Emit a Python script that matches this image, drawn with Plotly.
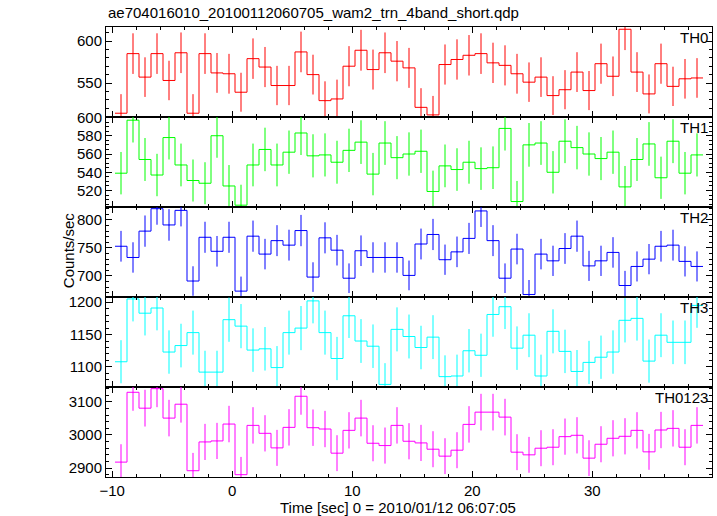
import numpy as np
import plotly.graph_objects as go
from plotly.subplots import make_subplots

# ---- data (rates in counts/sec, 1-s bins) ----
t_first = -9.27
bin_width = 1.0

th0 = [514, 585, 557, 585, 553, 586, 514, 585, 562, 561, 539, 579, 569, 547, 547, 587, 560, 529, 531, 570,
       589, 566, 586, 576, 568, 521, 512, 572, 578, 583, 585, 574, 571, 561, 551, 557, 535, 542, 563, 541,
       573, 558, 614, 563, 537, 573, 546, 555, 556]
th0_err = [22.7, 24.2, 23.6, 24.2, 23.5, 24.2, 22.7, 24.2, 23.7, 23.7, 23.2, 24.1, 23.9, 23.4, 23.4, 24.2, 23.7,
           23.0, 23.0, 23.9, 24.3, 23.8, 24.2, 24.0, 23.8, 22.8, 22.6, 23.9, 24.0, 24.1, 24.2, 24.0, 23.9, 23.7,
           23.5, 23.6, 23.1, 23.3, 23.7, 23.3, 23.9, 23.6, 24.8, 23.7, 23.2, 23.9, 23.4, 23.6, 23.6]

th1 = [539, 597, 554, 537, 578, 548, 531, 528, 580, 525, 504, 548, 565, 548, 562, 583, 558, 559, 551, 564,
       573, 538, 572, 556, 560, 563, 519, 547, 543, 551, 544, 545, 588, 508, 570, 572, 540, 574, 567, 560,
       555, 562, 524, 554, 571, 534, 574, 539, 559]
th1_err = [23.2, 24.4, 23.5, 23.2, 24.0, 23.4, 23.0, 23.0, 24.1, 22.9, 22.4, 23.4, 23.8, 23.4, 23.7, 24.1, 23.6,
           23.6, 23.5, 23.7, 23.9, 23.2, 23.9, 23.6, 23.7, 23.7, 22.8, 23.4, 23.3, 23.5, 23.3, 23.3, 24.2, 22.5,
           23.9, 23.9, 23.2, 24.0, 23.8, 23.7, 23.6, 23.7, 22.9, 23.5, 23.9, 23.1, 24.0, 23.2, 23.6]

th2 = [753, 733, 780, 820, 791, 817, 691, 769, 744, 769, 673, 771, 739, 763, 755, 781, 698, 768, 746, 696,
       745, 733, 733, 733, 701, 757, 774, 729, 743, 767, 816, 763, 696, 748, 667, 739, 727, 749, 771, 718,
       727, 742, 683, 717, 730, 753, 755, 726, 717]
th2_err = [27.4, 27.1, 27.9, 28.6, 28.1, 28.6, 26.3, 27.7, 27.3, 27.7, 25.9, 27.8, 27.2, 27.6, 27.5, 27.9, 26.4,
           27.7, 27.3, 26.4, 27.3, 27.1, 27.1, 27.1, 26.5, 27.5, 27.8, 27.0, 27.3, 27.7, 28.6, 27.6, 26.4, 27.3,
           25.8, 27.2, 27.0, 27.4, 27.8, 26.8, 27.0, 27.2, 26.1, 26.8, 27.0, 27.4, 27.5, 26.9, 26.8]

th3 = [1108, 1205, 1183, 1191, 1123, 1133, 1153, 1092, 1092, 1173, 1163, 1126, 1128, 1099, 1153, 1160, 1202,
       1153, 1113, 1179, 1140, 1132, 1073, 1158, 1147, 1130, 1146, 1085, 1086, 1125, 1118, 1181, 1193, 1129,
       1149, 1086, 1155, 1124, 1093, 1107, 1115, 1123, 1172, 1175, 1109, 1149, 1138, 1138, 1195]
th3_err = [33.3, 34.7, 34.4, 34.5, 33.5, 33.7, 34.0, 33.0, 33.0, 34.2, 34.1, 33.6, 33.6, 33.2, 34.0, 34.1, 34.7,
           34.0, 33.4, 34.3, 33.8, 33.6, 32.8, 34.0, 33.9, 33.6, 33.9, 32.9, 33.0, 33.5, 33.4, 34.4, 34.5, 33.6,
           33.9, 33.0, 34.0, 33.5, 33.1, 33.3, 33.4, 33.5, 34.2, 34.3, 33.3, 33.9, 33.7, 33.7, 34.6]

th0123 = [2918, 3129, 3081, 3140, 3051, 3093, 2892, 2979, 2982, 3033, 2880, 3029, 3005, 2961, 3023, 3117, 3022,
          3018, 2945, 3014, 3051, 2975, 2968, 3029, 2981, 2976, 2957, 2936, 2954, 3032, 3069, 3069, 3054, 2948,
          2940, 2960, 2963, 2995, 2999, 2930, 2972, 2990, 2996, 3014, 2949, 3015, 3020, 2963, 3029]
th0123_err = [54.0, 55.9, 55.5, 56.0, 55.2, 55.6, 53.8, 54.6, 54.6, 55.1, 53.7, 55.0, 54.8, 54.4, 55.0, 55.8,
              55.0, 54.9, 54.3, 54.9, 55.2, 54.5, 54.5, 55.0, 54.6, 54.6, 54.4, 54.2, 54.4, 55.1, 55.4, 55.4,
              55.3, 54.3, 54.2, 54.4, 54.4, 54.7, 54.8, 54.1, 54.5, 54.7, 54.7, 54.9, 54.3, 54.9, 55.0, 54.4, 55.0]

band_names = ["TH0", "TH1", "TH2", "TH3", "TH0123"]
band_values = [th0, th1, th2, th3, th0123]
band_errors = [th0_err, th1_err, th2_err, th3_err, th0123_err]
band_colors = ["rgb(255,0,0)", "rgb(0,255,0)", "rgb(0,0,255)", "rgb(0,255,255)", "rgb(255,0,255)"]
y_ranges = [[509.5, 616.7], [502, 600.5], [662.5, 823], [1069, 1208], [2873, 3145]]
y_dticks = [50, 20, 50, 50, 100]
y_minor = [10, 5, 10, 10, 20]

title_text = "ae704016010_20100112060705_wam2_trn_4band_short.qdp"
x_title = "Time [sec] 0 = 2010/01/12 06:07:05"
y_title = "Counts/sec"

FONT = "Liberation Sans, Arial, Helvetica, sans-serif"
FS = 15

fig = make_subplots(rows=5, cols=1, shared_xaxes=True, vertical_spacing=0)

for i, (name, vals, errs, col) in enumerate(zip(band_names, band_values, band_errors, band_colors)):
    vals = np.asarray(vals, float)
    n = len(vals)
    t = t_first + bin_width * np.arange(n)
    edges = np.append(t - 0.5 * bin_width, t[-1] + 0.5 * bin_width)
    ystep = np.append(vals, vals[-1])
    fig.add_trace(go.Scatter(x=edges, y=ystep, mode="lines", line=dict(color=col, width=1, shape="hv"),
                             showlegend=False, hoverinfo="skip"), row=i + 1, col=1)
    fig.add_trace(go.Scatter(x=t, y=vals, mode="markers", marker=dict(size=1, color=col),
                             error_y=dict(type="data", array=errs, visible=True, color=col, thickness=1, width=0),
                             showlegend=False), row=i + 1, col=1)
    fig.update_yaxes(range=y_ranges[i], dtick=y_dticks[i], tick0=0, row=i + 1, col=1,
                     minor=dict(dtick=y_minor[i], ticks="inside", ticklen=3, tickcolor="black"))
    fig.add_annotation(text=name, xref=f"x{i + 1 if i else ''} domain", yref=f"y{i + 1 if i else ''} domain",
                       x=0.997, y=0.88, xanchor="right", yanchor="middle", showarrow=False,
                       font=dict(size=FS, color="black", family=FONT))

fig.update_xaxes(range=[-10.52, 39.98], dtick=10, tick0=0, ticks="inside", ticklen=6, tickcolor="black",
                 showline=True, linecolor="black", linewidth=1, mirror="allticks", showgrid=False, zeroline=False,
                 minor=dict(dtick=2, ticks="inside", ticklen=3, tickcolor="black"),
                 tickfont=dict(size=FS, family=FONT, color="black"))
fig.update_yaxes(ticks="inside", ticklen=6, tickcolor="black", showline=True, linecolor="black", linewidth=1,
                 mirror="allticks", showgrid=False, zeroline=False,
                 tickfont=dict(size=FS, family=FONT, color="black"))

fig.add_annotation(text=title_text, xref="paper", yref="paper", x=0.0, y=1.033, xanchor="left", yanchor="middle",
                   showarrow=False, font=dict(size=FS, family=FONT, color="black"))
fig.add_annotation(text=x_title, xref="paper", yref="paper", x=0.482, y=-0.067, xanchor="center", yanchor="middle",
                   showarrow=False, font=dict(size=FS, family=FONT, color="black"))
fig.add_annotation(text=y_title, xref="paper", yref="paper", x=-0.0627, y=0.504, xanchor="center", yanchor="middle",
                   textangle=-90, showarrow=False, font=dict(size=FS, family=FONT, color="black"))

fig.update_layout(width=717, height=516, margin=dict(l=106, r=5, t=27, b=39),
                  paper_bgcolor="white", plot_bgcolor="white", showlegend=False,
                  font=dict(family=FONT, color="black"))

fig.write_html("out.html", config={"displayModeBar": False},
               post_script="document.body.style.margin='0';document.body.style.padding='0';"
                           "document.body.style.overflow='hidden';")
